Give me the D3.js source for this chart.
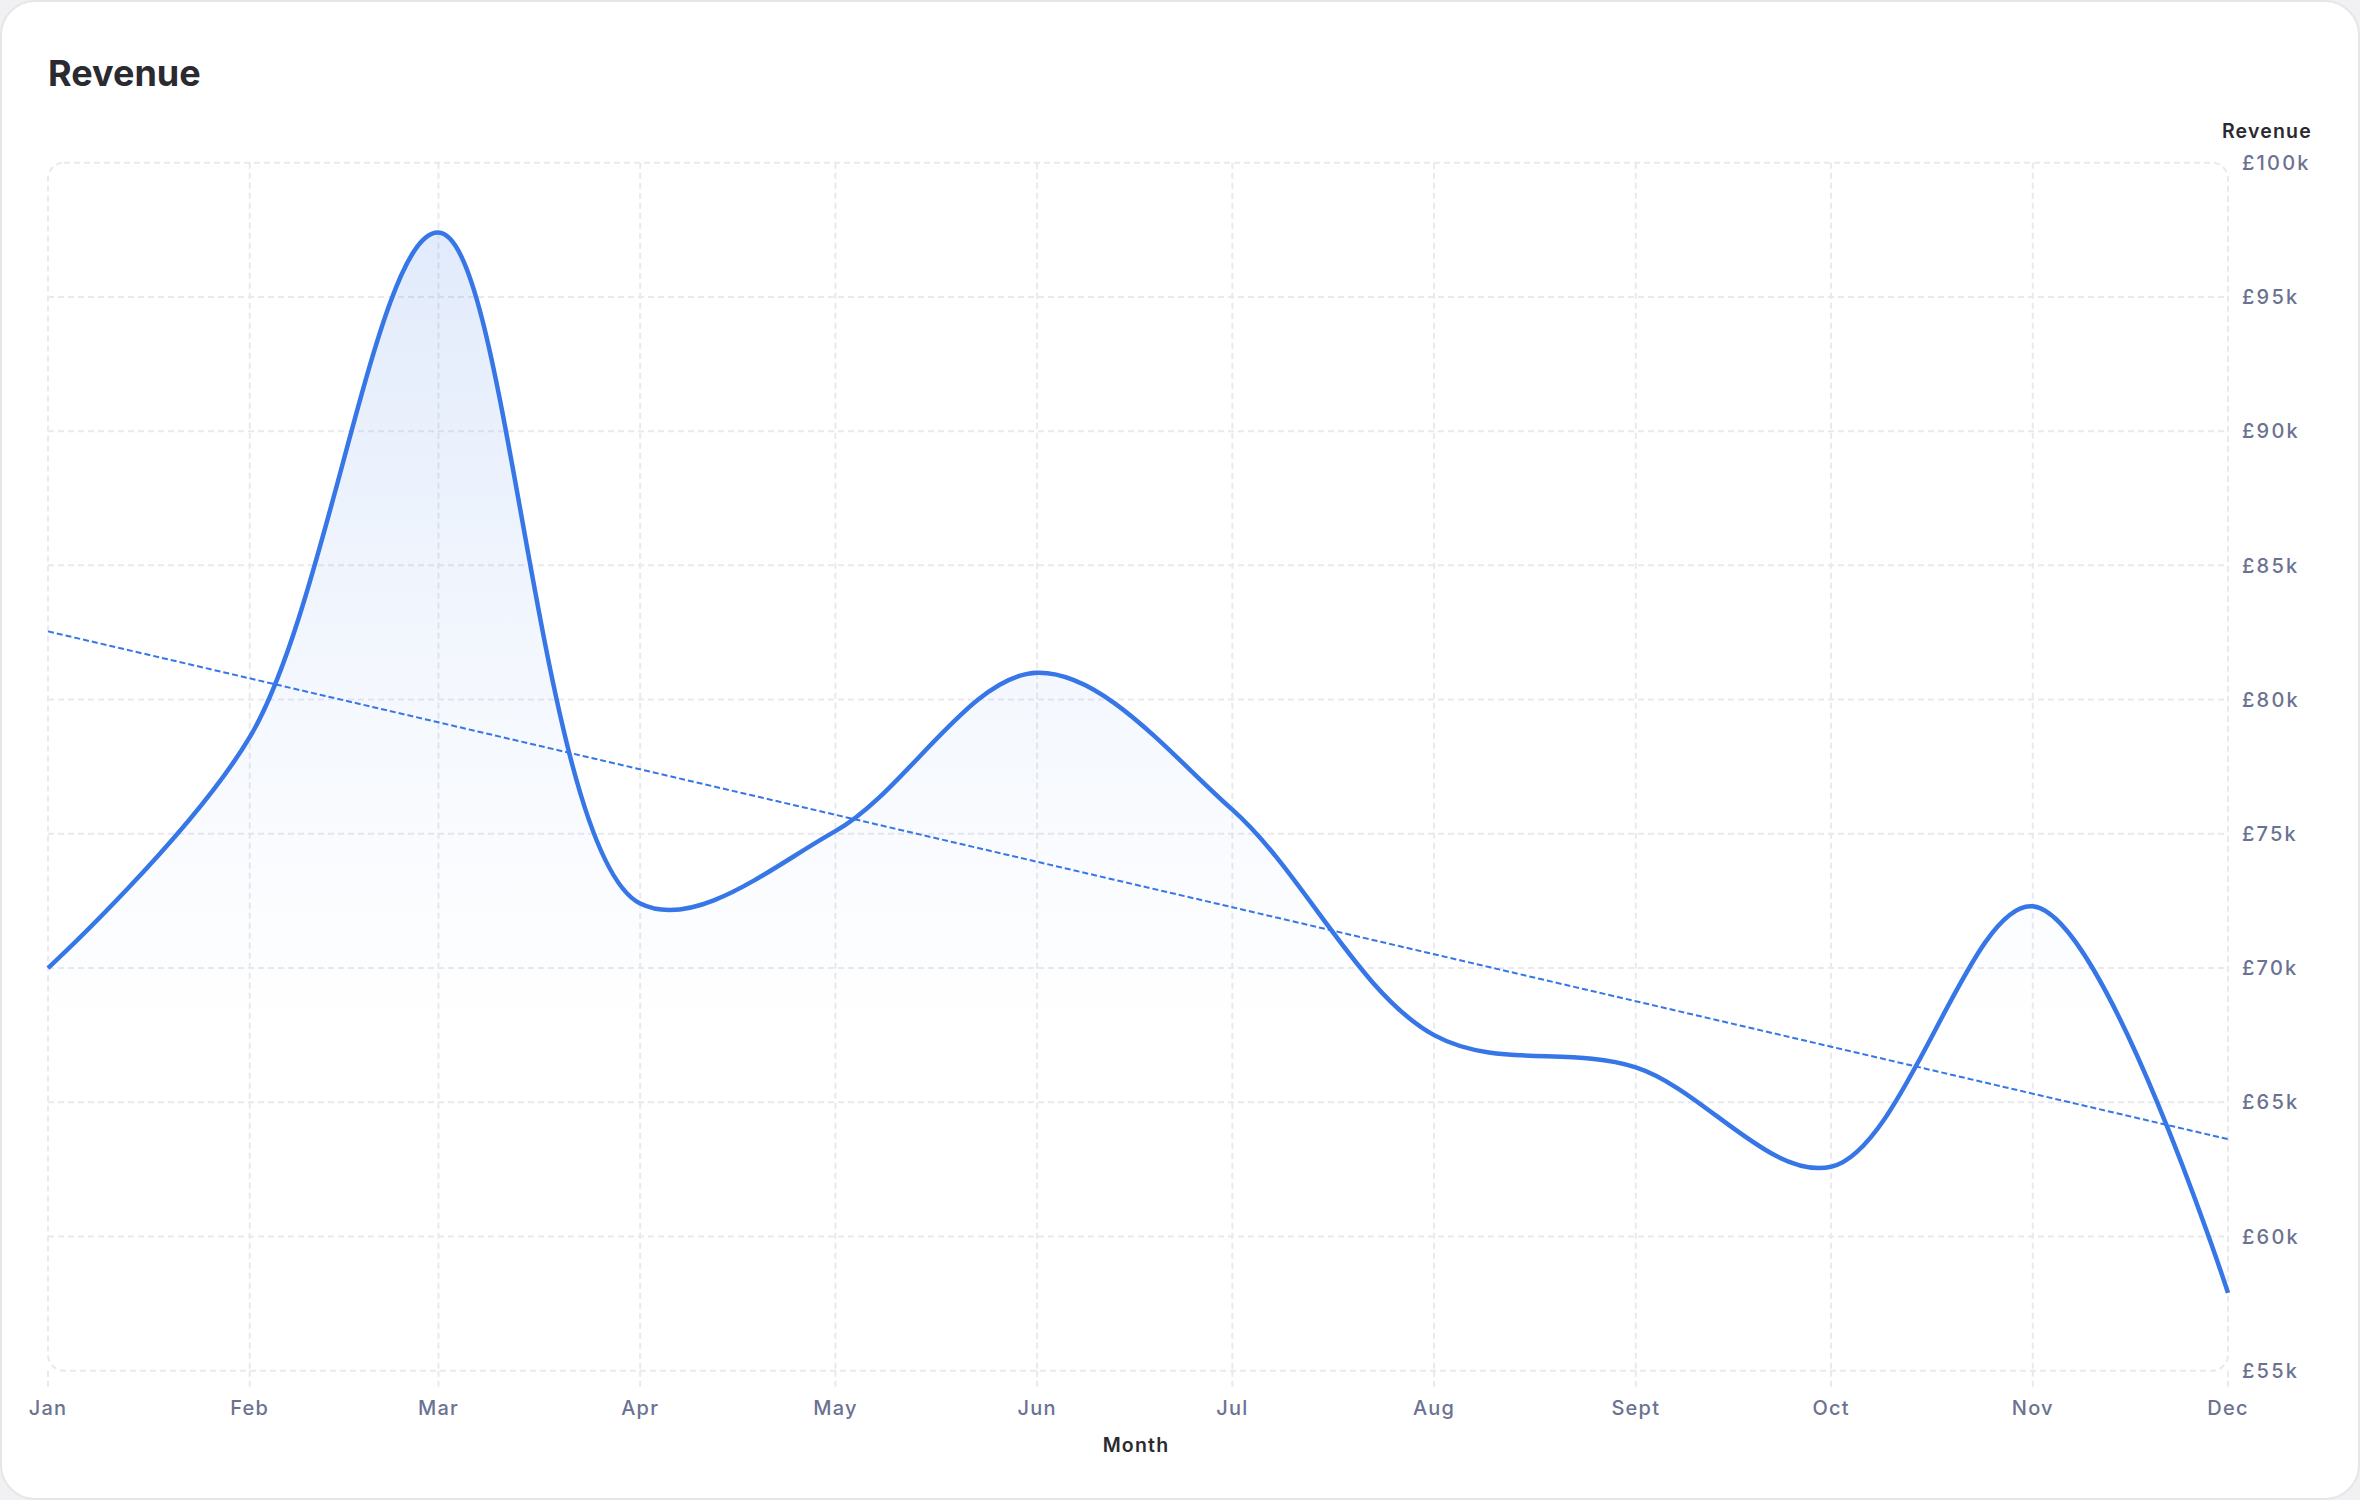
<!DOCTYPE html>
<html>
<head>
<meta charset="utf-8">
<script src="https://cdn.jsdelivr.net/npm/d3@7"></script>
<style>
  html, body { margin: 0; padding: 0; background: #f1f1f3; }
  svg { display: block; }
  text { font-family: Inter, "Noto Sans", sans-serif; }
</style>
</head>
<body>
<svg id="chart" width="2360" height="1500"></svg>
<script>
// ---- data ----
const chartTitle = "Revenue";
const yAxisTitle = "Revenue";
const xAxisTitle = "Month";
const monthDates = ["2024-01-01","2024-02-01","2024-03-01","2024-04-01","2024-05-01","2024-06-01",
                    "2024-07-01","2024-08-01","2024-09-01","2024-10-01","2024-11-01","2024-12-01"];
const monthLabels = ["Jan","Feb","Mar","Apr","May","Jun","Jul","Aug","Sept","Oct","Nov","Dec"];
const revenue = [70000, 78600, 97400, 72400, 75100, 81000, 75900, 67500, 66300, 62600, 72300, 57900];
const yTicks = [55000, 60000, 65000, 70000, 75000, 80000, 85000, 90000, 95000, 100000];
const yTickLabels = ["£55k","£60k","£65k","£70k","£75k","£80k","£85k","£90k","£95k","£100k"];

// ---- layout ----
const W = 2360, H = 1500;
const plot = { left: 48, right: 2228, top: 162.7, bottom: 1370.7 };
const lineColor = "#3676e6";
const gridColor = "#e9e9ee";
const labelColor = "#6b7291";
const darkText = "#2a2a30";

const svg = d3.select("#chart");
const parse = d3.utcParse("%Y-%m-%d");
const data = monthDates.map((d, i) => ({ date: parse(d), value: revenue[i], label: monthLabels[i], i }));

const x = d3.scaleUtc().domain([data[0].date, data[data.length - 1].date]).range([plot.left, plot.right]);
const y = d3.scaleLinear().domain([55000, 100000]).range([plot.bottom, plot.top]);

// card
svg.append("rect").attr("x", 1).attr("y", 1).attr("width", W - 2).attr("height", H - 2)
  .attr("rx", 34).attr("fill", "#ffffff").attr("stroke", "#e6e6e9").attr("stroke-width", 2);

// title
svg.append("text").attr("x", 48).attr("y", 86).text(chartTitle)
  .attr("font-size", 36).attr("font-weight", 700).attr("fill", darkText);

// gradient
const defs = svg.append("defs");
const grad = defs.append("linearGradient").attr("id", "areaGrad")
  .attr("gradientUnits", "userSpaceOnUse")
  .attr("x1", 0).attr("x2", 0).attr("y1", plot.top).attr("y2", plot.bottom);
grad.append("stop").attr("offset", 0).attr("stop-color", lineColor).attr("stop-opacity", 0.16);
grad.append("stop").attr("offset", 0.45).attr("stop-color", lineColor).attr("stop-opacity", 0.05);
grad.append("stop").attr("offset", 0.72).attr("stop-color", lineColor).attr("stop-opacity", 0.0);

const gridG = svg.append("g").attr("stroke", gridColor).attr("stroke-width", 2)
  .attr("stroke-dasharray", "6 4").attr("fill", "none");

// horizontal grid (inner ticks)
gridG.selectAll("line.h").data(yTicks.slice(1, -1)).join("line")
  .attr("x1", plot.left).attr("x2", plot.right)
  .attr("y1", d => y(d)).attr("y2", d => y(d));
// vertical grid (inner months)
gridG.selectAll("line.v").data(data.slice(1, -1)).join("line")
  .attr("y1", plot.top).attr("y2", plot.bottom)
  .attr("x1", d => x(d.date)).attr("x2", d => x(d.date));
// tick marks below the plot
gridG.selectAll("line.t").data(data).join("line")
  .attr("y1", plot.bottom).attr("y2", plot.bottom + 17)
  .attr("x1", d => x(d.date)).attr("x2", d => x(d.date));
// frame
gridG.append("rect").attr("x", plot.left).attr("y", plot.top)
  .attr("width", plot.right - plot.left).attr("height", plot.bottom - plot.top).attr("rx", 16);

// area
const area = d3.area().x(d => x(d.date)).y0(y(55000)).y1(d => y(d.value)).curve(d3.curveCatmullRom);
svg.append("path").datum(data).attr("d", area).attr("fill", "url(#areaGrad)");

// trend line (least squares on month index)
const n = data.length;
const mx = d3.mean(data, d => d.i), my = d3.mean(data, d => d.value);
const slope = d3.sum(data, d => (d.i - mx) * (d.value - my)) / d3.sum(data, d => (d.i - mx) ** 2);
const intercept = my - slope * mx;
const trend = [data[0], data[n - 1]].map(d => ({ date: d.date, value: intercept + slope * d.i }));
svg.append("path").datum(trend)
  .attr("d", d3.line().x(d => x(d.date)).y(d => y(d.value)))
  .attr("fill", "none").attr("stroke", lineColor).attr("stroke-width", 2).attr("stroke-dasharray", "6 3");

// main line
const line = d3.line().x(d => x(d.date)).y(d => y(d.value)).curve(d3.curveCatmullRom);
svg.append("path").datum(data).attr("d", line)
  .attr("fill", "none").attr("stroke", lineColor).attr("stroke-width", 4.5)
  .attr("stroke-linejoin", "round");

// y axis labels (right)
svg.append("g").selectAll("text").data(yTicks).join("text")
  .attr("x", 2242).attr("y", d => y(d)).attr("dy", "0.36em")
  .text((d, i) => yTickLabels[i])
  .attr("font-size", 20).attr("font-weight", 500).attr("fill", labelColor).attr("letter-spacing", 2.2);

svg.append("text").attr("x", 2312).attr("y", 138).attr("text-anchor", "end").text(yAxisTitle)
  .attr("font-size", 19.5).attr("font-weight", 600).attr("fill", darkText).attr("letter-spacing", 1.2);

// x axis labels
svg.append("g").selectAll("text").data(data).join("text")
  .attr("x", d => x(d.date)).attr("y", 1415).attr("text-anchor", "middle")
  .text(d => d.label)
  .attr("font-size", 20).attr("font-weight", 500).attr("fill", labelColor).attr("letter-spacing", 1.2);

svg.append("text").attr("x", 1136).attr("y", 1452).attr("text-anchor", "middle").text(xAxisTitle)
  .attr("font-size", 19.5).attr("font-weight", 600).attr("fill", darkText).attr("letter-spacing", 1.2);
</script>
</body>
</html>
